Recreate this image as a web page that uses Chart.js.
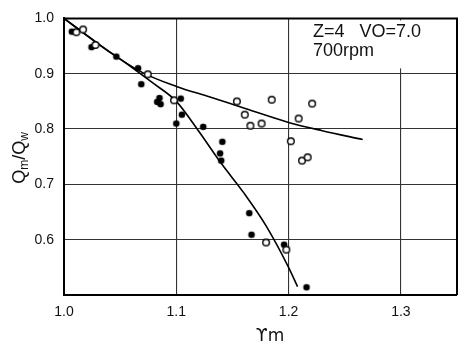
<!DOCTYPE html>
<html>
<head>
<meta charset="utf-8">
<script src="https://cdn.jsdelivr.net/npm/chart.js@4/dist/chart.umd.min.js"></script>
<style>
  html, body { margin: 0; padding: 0; background: #fff; }
  canvas { display: block; }
</style>
</head>
<body>
<canvas id="chart" width="462" height="349"></canvas>
<script>
const filledX = [1.007, 1.0245, 1.0466, 1.066, 1.0688, 1.085, 1.083, 1.086, 1.104, 1.105, 1.100, 1.124, 1.141, 1.139, 1.140, 1.165, 1.167, 1.196, 1.216];
const filledY = [0.976, 0.948, 0.931, 0.910, 0.881, 0.856, 0.849, 0.845, 0.855, 0.826, 0.810, 0.804, 0.777, 0.756, 0.743, 0.648, 0.609, 0.591, 0.514];
const openX = [1.011, 1.017, 1.028, 1.0746, 1.098, 1.154, 1.161, 1.166, 1.176, 1.185, 1.221, 1.209, 1.202, 1.212, 1.217, 1.180, 1.198];
const openY = [0.975, 0.980, 0.952, 0.899, 0.852, 0.850, 0.826, 0.806, 0.810, 0.853, 0.846, 0.819, 0.778, 0.743, 0.749, 0.595, 0.582];

// fitted curves
const steepX = [1.0, 1.03, 1.06, 1.08, 1.10, 1.12, 1.14, 1.16, 1.18, 1.20, 1.208];
const steepY = [1.0, 0.955, 0.912, 0.882, 0.850, 0.796, 0.738, 0.685, 0.625, 0.550, 0.515];
const flatX = [1.0, 1.04, 1.07, 1.10, 1.13, 1.16, 1.20, 1.23, 1.266];
const flatY = [1.0, 0.940, 0.902, 0.877, 0.858, 0.838, 0.812, 0.797, 0.781];

const xTicks = [1.0, 1.1, 1.2, 1.3];
const yTicks = [0.6, 0.7, 0.8, 0.9, 1.0];

const FONT = '"Liberation Sans", Arial, sans-serif';

function pts(xs, ys) {
  return xs.map((x, i) => ({ x: x, y: ys[i] }));
}

function marker(filled) {
  const c = document.createElement('canvas');
  c.width = 10;
  c.height = 10;
  const g = c.getContext('2d');
  g.beginPath();
  g.arc(5, 5, 3.3, 0, Math.PI * 2);
  if (filled) {
    g.fillStyle = '#000';
    g.fill();
  } else {
    g.fillStyle = '#fff';
    g.fill();
    g.lineWidth = 1.4;
    g.strokeStyle = '#000';
    g.stroke();
  }
  return c;
}

const frame = {
  id: 'frame',
  beforeDatasetsDraw(chart) {
    const a = chart.chartArea;
    const c = chart.ctx;
    // blank area behind the note
    c.save();
    c.fillStyle = '#fff';
    c.fillRect(306, a.top + 2, a.right - 308, 48);
    c.restore();
  },
  afterDraw(chart) {
    const a = chart.chartArea;
    const c = chart.ctx;
    c.save();
    c.strokeStyle = '#000';
    c.lineWidth = 2;
    c.beginPath();
    c.moveTo(a.left, a.top);
    c.lineTo(a.right, a.top);
    c.lineTo(a.right, a.bottom);
    c.stroke();

    c.fillStyle = '#111';
    c.textBaseline = 'alphabetic';
    c.textAlign = 'left';
    c.font = '18px ' + FONT;
    c.fillText('Z=4   VO=7.0', 313, 37);
    c.fillText('700rpm', 313, 56);

    // x title
    c.textAlign = 'center';
    c.font = '17px "DejaVu Sans", sans-serif';
    c.fillText('\u03D2m', 270, 341);

    // y title with subscripts
    c.translate(25, 158);
    c.rotate(-Math.PI / 2);
    c.textAlign = 'left';
    const parts = [['Q', 18, 0], ['m', 12, 3], ['/', 18, 0], ['Q', 18, 0], ['w', 12, 3]];
    let w = 0;
    parts.forEach(p => { c.font = p[1] + 'px ' + FONT; w += c.measureText(p[0]).width; });
    let x = -w / 2;
    parts.forEach(p => {
      c.font = p[1] + 'px ' + FONT;
      c.fillText(p[0], x, p[2]);
      x += c.measureText(p[0]).width;
    });
    c.restore();
  }
};

new Chart(document.getElementById('chart'), {
  type: 'scatter',
  data: {
    datasets: [
      {
        data: pts(openX, openY),
        pointStyle: marker(false),
        order: 0,
      },
      {
        data: pts(filledX, filledY),
        pointStyle: marker(true),
        order: 1,
      },
      {
        data: pts(steepX, steepY),
        showLine: true,
        pointRadius: 0,
        borderColor: '#000',
        borderWidth: 1.6,
        tension: 0.4,
        cubicInterpolationMode: 'monotone',
        order: 2,
      },
      {
        data: pts(flatX, flatY),
        showLine: true,
        pointRadius: 0,
        borderColor: '#000',
        borderWidth: 1.6,
        tension: 0.4,
        cubicInterpolationMode: 'monotone',
        order: 3,
      },
    ],
  },
  options: {
    responsive: false,
    animation: false,
    devicePixelRatio: 1,
    layout: { padding: { top: 12, right: 3, left: 0, bottom: 0 } },
    plugins: {
      legend: { display: false },
      tooltip: { enabled: false },
    },
    scales: {
      x: {
        type: 'linear',
        min: 1.0,
        max: 1.35,
        afterBuildTicks: (axis) => { axis.ticks = xTicks.map(v => ({ value: v })); },
        afterFit: (axis) => { axis.height = 54; },
        ticks: {
          padding: 9,
          color: '#111',
          font: { family: FONT, size: 14 },
          callback: (v) => v.toFixed(1),
        },
        grid: { color: '#333', lineWidth: 1.1, drawTicks: false },
        border: { color: '#000', width: 2 },
      },
      y: {
        min: 0.5,
        max: 1.0,
        afterBuildTicks: (axis) => { axis.ticks = yTicks.map(v => ({ value: v })); },
        afterFit: (axis) => { axis.width = 64; },
        ticks: {
          padding: 10,
          color: '#111',
          font: { family: FONT, size: 14 },
          callback: (v) => v.toFixed(1),
        },
        grid: { color: '#333', lineWidth: 1.1, drawTicks: false },
        border: { color: '#000', width: 2 },
      },
    },
  },
  plugins: [frame],
});
</script>
</body>
</html>
